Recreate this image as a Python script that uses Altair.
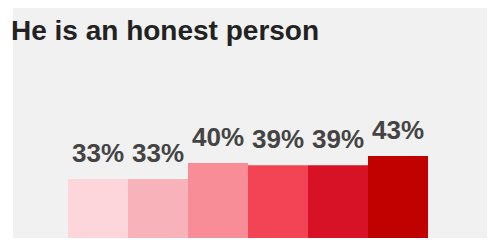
import altair as alt
import pandas as pd

categories = ["Group 1", "Group 2", "Group 3", "Group 4", "Group 5", "Group 6"]
values = [33, 33, 40, 39, 39, 43]
labels = ["33%", "33%", "40%", "39%", "39%", "43%"]
colors = ["#fcd6da", "#f8b2ba", "#f88c97", "#f24455", "#d71226", "#c10000"]

df = pd.DataFrame({"category": categories, "value": values, "label": labels})

x = alt.X("category:N", sort=categories, axis=None,
          scale=alt.Scale(paddingInner=0, paddingOuter=0.95, align=0.4825))
yscale = alt.Scale(domain=[7.4, 107.4], zero=False, nice=False)

bars = alt.Chart(df).mark_bar(clip=True).encode(
    x=x,
    y=alt.Y("value:Q", scale=yscale, axis=None),
    y2=alt.datum(0),
    color=alt.Color("category:N", sort=categories,
                    scale=alt.Scale(domain=categories, range=colors), legend=None),
)

text = alt.Chart(df).mark_text(
    font="Liberation Sans", fontSize=26, fontWeight="bold", color="#444444",
    baseline="alphabetic", dy=-17,
).encode(
    x=x,
    y=alt.Y("value:Q", scale=yscale, axis=None),
    text="label:N",
)

chart = alt.layer(bars, text).properties(
    width=474,
    height=230,
    autosize=alt.AutoSizeParams(type="none"),
    padding={"left": 5, "top": 0, "right": 0, "bottom": 0},
    background="#ffffff",
    title=alt.TitleParams(
        "He is an honest person", anchor="start", font="Liberation Sans",
        fontSize=28, fontWeight="bold", color="#222222", baseline="alphabetic",
        offset=-37, dx=-2, dy=23,
    ),
).configure_view(fill="#f1f1f1", stroke=None)

chart.save("out.html", embed_options={"renderer": "svg", "actions": False})
